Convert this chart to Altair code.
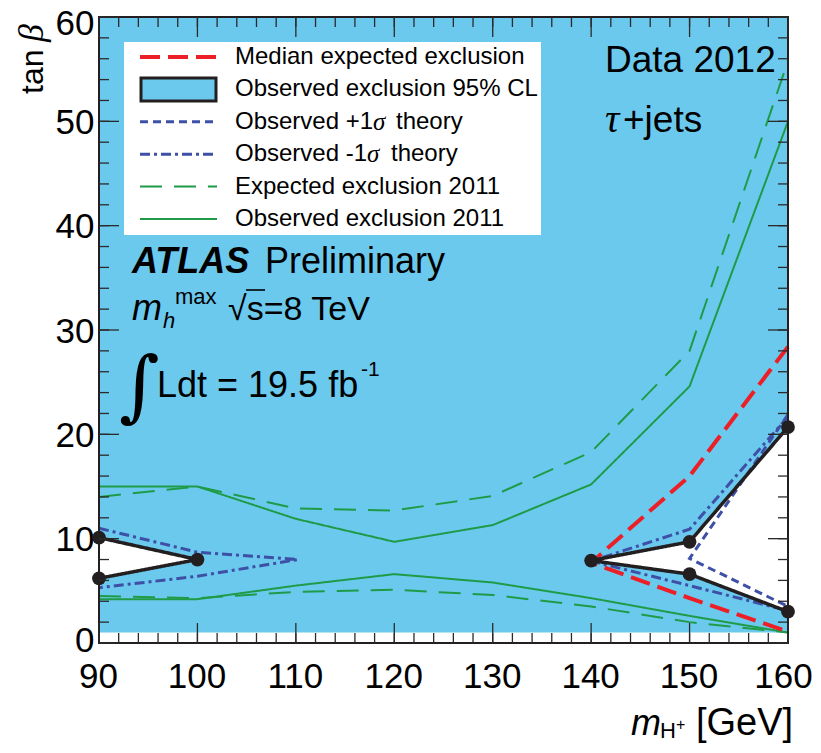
import altair as alt
import pandas as pd

# ---------------- data ----------------
mass_points = [90, 100, 110, 120, 130, 140, 150, 160]

obs2011_upper = [15.0, 15.0, 11.9, 9.7, 11.3, 15.2, 24.6, 50.0]
obs2011_lower = [4.2, 4.2, 5.5, 6.6, 5.8, 4.3, 2.6, 1.0]
exp2011_upper = [14.0, 15.0, 12.9, 12.7, 14.1, 18.3, 28.0, 55.8]
exp2011_lower = [4.5, 4.3, 4.9, 5.1, 4.6, 3.5, 2.0, 1.0]

obs_left_mass = [90, 100, 90]
obs_left_tanb = [10.1, 8.0, 6.2]
obs_right_mass = [160, 150, 140, 150, 160]
obs_right_tanb = [20.7, 9.7, 7.9, 6.6, 3.0]

exp_mass = [160, 150, 140, 150, 160]
exp_tanb = [28.4, 16.0, 7.7, 4.3, 1.1]

plus1_mass = [160, 150, 160]
plus1_tanb = [21.9, 8.1, 3.5]

minus1_left_mass = [90, 100, 110.2, 100, 90]
minus1_left_tanb = [11.0, 8.7, 8.0, 6.4, 5.3]
minus1_right_mass = [160, 150, 140, 150, 160]
minus1_right_tanb = [21.7, 10.9, 7.85, 5.5, 3.1]

scan_mass_range = [90, 160]
scan_tanb_range = [1.0, 60.0]

x_major = [90, 100, 110, 120, 130, 140, 150, 160]
x_minor = list(range(90, 161, 2))
y_major = [0, 10, 20, 30, 40, 50, 60]
y_minor = list(range(0, 61, 2))

legend_names = [
    "Median expected exclusion",
    "Observed exclusion 95% CL",
    "Observed +1σ theory",
    "Observed -1σ theory",
    "Expected exclusion 2011",
    "Observed exclusion 2011",
]

# ---------------- styles ----------------
FONT = "Liberation Sans"
SERIF = "Liberation Serif"
FILL = "#6cc9ee"
RED = "#ec1f27"
BLACK = "#231f20"
BLUE = "#3d50a6"
GREEN = "#1f9b48"
TICK = "#2a2a2a"

legend_colors = [RED, BLACK, BLUE, BLUE, GREEN, GREEN]
legend_dash = [[20, 8], [1, 0], [8, 5], [10, 4, 3, 4], [22, 12], [1, 0]]
legend_width = [4, 3.5, 3, 3, 2, 2]

W, H = 689, 626

xs = alt.Scale(domain=[90, 160], nice=False, zero=False)
ys = alt.Scale(domain=[0, 60], nice=False, zero=False)
xaxis = alt.Axis(values=x_major, title=None, ticks=False, tickSize=0, domain=False,
                 grid=False, labelFont=FONT, labelFontSize=35, labelColor="black",
                 labelPadding=16, labelFlush=False, labelOverlap=False,
                 labelOffset={"condition": {"test": "datum.value == 160", "value": -5}, "value": -1})
yaxis = alt.Axis(values=y_major, title=None, ticks=False, tickSize=0, domain=False,
                 grid=False, labelFont=FONT, labelFontSize=35, labelColor="black",
                 labelPadding=5, labelFlush=False, labelOverlap=False,
                 labelOffset={"condition": [{"test": "datum.value == 60", "value": 6},
                                            {"test": "datum.value == 0", "value": -3}],
                              "value": 1})


def X(f):
    return alt.X(f, type="quantitative", scale=xs, axis=xaxis)


def Y(f):
    return alt.Y(f, type="quantitative", scale=ys, axis=yaxis)


def path_df(ms, ts, seg="a"):
    return pd.DataFrame({"m": ms, "tanb": ts, "ord": list(range(len(ms))), "seg": seg})


def line_layer(df, color, dash, width):
    return alt.Chart(df).mark_line(color=color, strokeDash=dash, strokeWidth=width,
                                   strokeCap="butt", strokeJoin="miter").encode(
        x=X("m"), y=Y("tanb"), detail="seg:N", order="ord:Q")


layers = []

# excluded region (blue) over the scanned range
region_df = pd.DataFrame({"m0": [scan_mass_range[0]], "m1": [scan_mass_range[1]],
                          "t0": [scan_tanb_range[0]], "t1": [scan_tanb_range[1]]})
layers.append(alt.Chart(region_df).mark_rect(color=FILL).encode(
    x=X("m0"), x2="m1", y=Y("t0"), y2="t1"))

# allowed holes bounded by the observed contour
hole_df = pd.concat([
    pd.DataFrame({"hole": "left", "m": obs_left_mass[:2],
                  "up": obs_left_tanb[:2], "lo": obs_left_tanb[2:0:-1]}),
    pd.DataFrame({"hole": "right", "m": obs_right_mass[2::-1],
                  "up": obs_right_tanb[2::-1], "lo": obs_right_tanb[2:]}),
])
layers.append(alt.Chart(hole_df).mark_area(color="white", opacity=1, orient="vertical").encode(
    x=X("m"), y=Y("up"), y2="lo", detail="hole:N"))

# 2011 results
o11 = pd.concat([path_df(mass_points, obs2011_upper, "u"), path_df(mass_points, obs2011_lower, "l")])
e11 = pd.concat([path_df(mass_points, exp2011_upper, "u"), path_df(mass_points, exp2011_lower, "l")])
layers.append(line_layer(e11, GREEN, legend_dash[4], legend_width[4]))
layers.append(line_layer(o11, GREEN, legend_dash[5], legend_width[5]))

# expected
layers.append(line_layer(path_df(exp_mass, exp_tanb), RED, legend_dash[0], legend_width[0]))

# theory variations
m1 = pd.concat([path_df(minus1_left_mass, minus1_left_tanb, "l"),
                path_df(minus1_right_mass, minus1_right_tanb, "r")])
layers.append(line_layer(m1, BLUE, legend_dash[3], legend_width[3]))
layers.append(line_layer(path_df(plus1_mass, plus1_tanb), BLUE, legend_dash[2], legend_width[2]))

# observed
obs = pd.concat([path_df(obs_left_mass, obs_left_tanb, "l"),
                 path_df(obs_right_mass, obs_right_tanb, "r")])
layers.append(line_layer(obs, BLACK, legend_dash[1], legend_width[1]))
layers.append(alt.Chart(obs).mark_point(filled=True, color=BLACK, size=190, opacity=1).encode(
    x=X("m"), y=Y("tanb")))

# frame
one = pd.DataFrame({"k": [0]})
layers.append(alt.Chart(one).mark_rect(fillOpacity=0, stroke=BLACK, strokeWidth=2).encode(
    x=alt.value(0), x2=alt.value(W), y=alt.value(0), y2=alt.value(H)))


# ticks (inside, all four sides)
def x_ticks(values, length):
    df = pd.DataFrame({"m": values})
    c = alt.Chart(df).mark_rule(color=TICK, strokeWidth=1.3)
    return [c.encode(x=X("m"), y=alt.value(H), y2=alt.value(H - length)),
            c.encode(x=X("m"), y=alt.value(0), y2=alt.value(length))]


def y_ticks(values, length):
    df = pd.DataFrame({"tanb": values})
    c = alt.Chart(df).mark_rule(color=TICK, strokeWidth=1.3)
    return [c.encode(y=Y("tanb"), x=alt.value(0), x2=alt.value(length)),
            c.encode(y=Y("tanb"), x=alt.value(W), x2=alt.value(W - length))]


layers += x_ticks(x_minor, 10) + x_ticks(x_major, 20)
layers += y_ticks(y_minor, 10) + y_ticks(y_major, 20)


# text helper
def txt(text, x, y, size, font=FONT, style="normal", weight="normal", angle=0,
        align="left", baseline="alphabetic"):
    return alt.Chart(one).mark_text(font=font, fontSize=size, fontStyle=style,
                                    fontWeight=weight, angle=angle, align=align,
                                    baseline=baseline, color="black").encode(
        x=alt.value(x), y=alt.value(y), text=alt.value(text))


# legend (drawn by hand)
layers.append(alt.Chart(one).mark_rect(color="white").encode(
    x=alt.value(25), x2=alt.value(442), y=alt.value(25), y2=alt.value(218)))
sigma_pos = {2: (274, 297), 3: (268, 292)}
for i, name in enumerate(legend_names):
    yy = 40 + 32.4 * i
    if i == 1:
        layers.append(alt.Chart(one).mark_rect(fill=FILL, stroke=BLACK, strokeWidth=3).encode(
            x=alt.value(42), x2=alt.value(117), y=alt.value(yy - 11.5), y2=alt.value(yy + 11.5)))
    else:
        layers.append(alt.Chart(one).mark_rule(color=legend_colors[i], strokeDash=legend_dash[i],
                                               strokeWidth=legend_width[i], strokeCap="butt").encode(
            x=alt.value(41), x2=alt.value(118), y=alt.value(yy)))
    if i in sigma_pos:
        head, tail = name.split("σ")
        sx, tx = sigma_pos[i]
        layers.append(txt(head, 136, yy, 24, baseline="middle"))
        layers.append(txt("σ", sx, yy, 25, font=SERIF, style="italic", baseline="middle"))
        layers.append(txt(tail.strip(), tx, yy, 24, baseline="middle"))
    else:
        layers.append(txt(name, 136, yy, 24, baseline="middle"))

# annotations
layers += [
    txt("ATLAS", 33, 256, 36, weight="bold", style="italic"),
    txt("Preliminary", 166, 256, 36),
    txt("m", 33, 303, 36, style="italic"),
    txt("h", 64, 311, 22, style="italic"),
    txt("max", 76, 287, 22),
    txt("√s=8 TeV", 129, 303, 34),
    txt("∫", 20, 395, 78, font="DejaVu Serif"),
    txt("Ldt = 19.5 fb", 58, 380, 36),
    txt("-1", 262, 359, 21),
    txt("Data 2012", 506, 55, 37),
    txt("τ", 506, 115, 40, font=SERIF, style="italic"),
    txt("+jets", 524, 115, 37),
    # axis titles
    txt("tan", -56, 77, 32, angle=270),
    txt("β", -56, 25, 36, font=SERIF, style="italic", angle=270),
    txt("m", 532, 718, 36, style="italic"),
    txt("H", 561, 721, 22),
    txt("+", 577, 713, 16),
    txt("[GeV]", 597, 718, 38),
]
# overline of the square root
layers.append(alt.Chart(one).mark_rule(color="black", strokeWidth=1.6).encode(
    x=alt.value(147), x2=alt.value(166), y=alt.value(273)))

chart = alt.layer(*layers).properties(
    width=W, height=H,
    autosize=alt.AutoSizeParams(type="none"),
    padding={"left": 91, "top": 9, "right": 25, "bottom": 100},
).configure_view(stroke=None)

chart.save("out.html", embed_options={"renderer": "svg", "actions": False})
